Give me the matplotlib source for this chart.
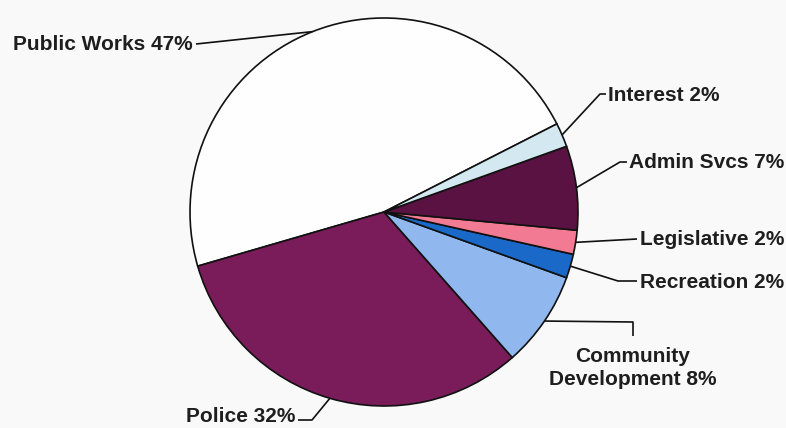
import numpy as np
import matplotlib.pyplot as plt

# budget share by department
departments = ["Public Works", "Police", "Community\nDevelopment", "Recreation",
               "Legislative", "Admin Svcs", "Interest"]
shares = [47, 32, 8, 2, 2, 7, 2]
colors = ["#fefefe", "#7b1c5a", "#90b8ef", "#1a68c8", "#f27a93", "#5a1242", "#d3e8f1"]

W, H = 786, 428

# label layout in pixel coords from the top-left: leader elbows and text anchor
label_layout = {
    "Public Works": dict(path=[(196, 44)], text=(193, 44), ha="right"),
    "Police": dict(path=[(312, 420), (298, 420)], text=(295, 417), ha="right"),
    "Community\nDevelopment": dict(path=[(633, 322), (633, 336)], text=(633, 368), ha="center"),
    "Recreation": dict(path=[(618, 281), (637, 281)], text=(640, 283), ha="left"),
    "Legislative": dict(path=[(637, 239)], text=(640, 239), ha="left"),
    "Admin Svcs": dict(path=[(620, 162), (627, 162)], text=(629, 162), ha="left"),
    "Interest": dict(path=[(600, 94), (606, 94)], text=(608, 95), ha="left"),
}

plt.rcParams["font.family"] = ["Liberation Sans", "DejaVu Sans"]

fig = plt.figure(figsize=(7.86, 4.28), dpi=100, facecolor="#f9f9f9")
ax = fig.add_axes([0, 0, 1, 1])

cx, cy, r = 384, H - 212, 194
wedges, _ = ax.pie(shares, colors=colors, startangle=27, counterclock=True,
                   center=(cx, cy), radius=r, frame=True,
                   wedgeprops=dict(edgecolor="#111111", linewidth=1.2))
ax.set_xlim(0, W)
ax.set_ylim(0, H)
ax.set_aspect("equal")
ax.axis("off")

for w, name, val in zip(wedges, departments, shares):
    mid = np.deg2rad((w.theta1 + w.theta2) / 2)
    px = cx + r * np.cos(mid)
    py = cy + r * np.sin(mid)
    lay = label_layout[name]
    pts = [(px, py)] + [(x, H - y) for x, y in lay["path"]]
    xs, ys = zip(*pts)
    ax.plot(xs, ys, color="#111111", lw=1.2, solid_capstyle="butt")
    tx, ty = lay["text"]
    ax.text(tx, H - ty, f"{name} {val}%", ha=lay["ha"], va="center",
            fontsize=15, fontweight="bold", color="#1e1e1e", linespacing=1.3)

fig.savefig("out.png", dpi=100, facecolor=fig.get_facecolor())
